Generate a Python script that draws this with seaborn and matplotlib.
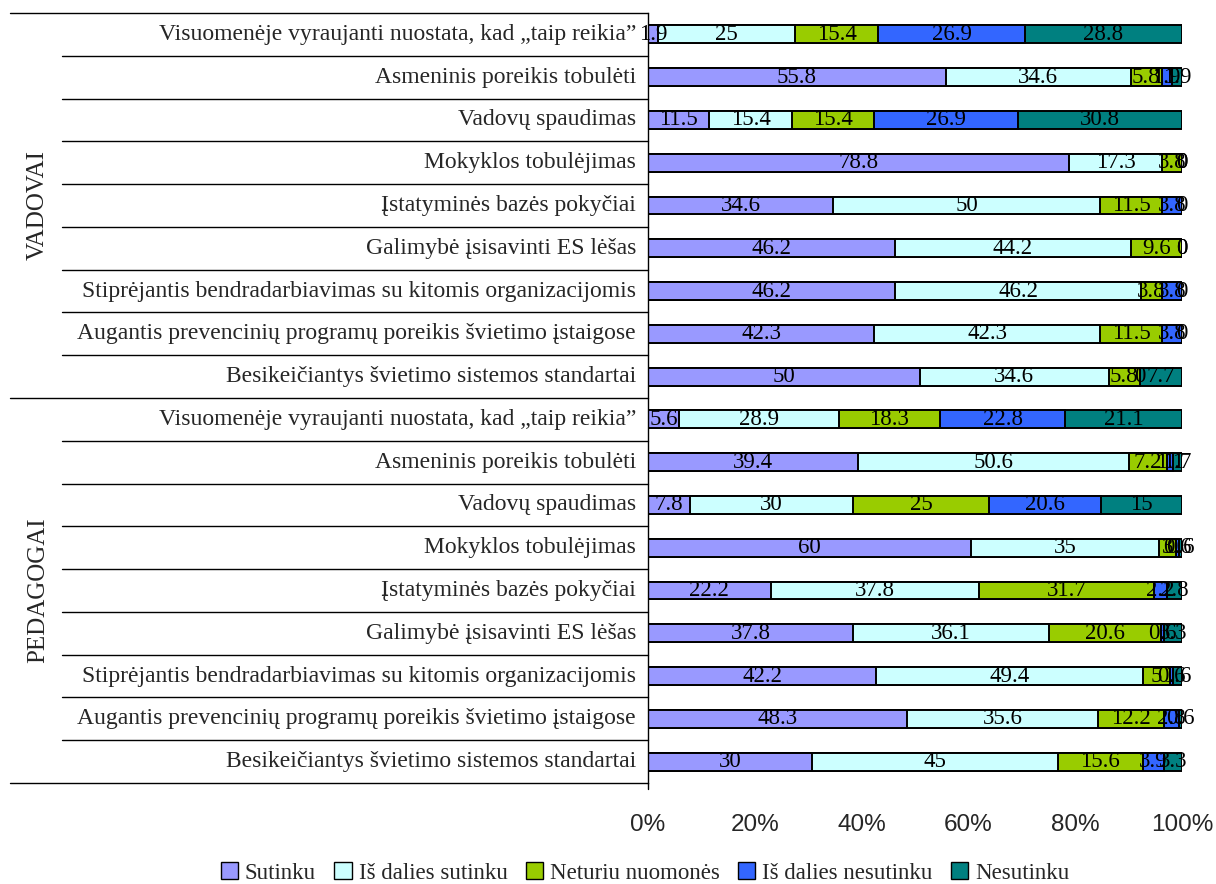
import numpy as np
import pandas as pd
import matplotlib
matplotlib.use("Agg")
import matplotlib.pyplot as plt
import matplotlib.transforms as mtransforms
from matplotlib.patches import Patch
import seaborn as sns

# ---------------- data ----------------
groups = ["VADOVAI", "PEDAGOGAI"]
items = [
    "Visuomenėje vyraujanti nuostata, kad „taip reikia”",
    "Asmeninis poreikis tobulėti",
    "Vadovų spaudimas",
    "Mokyklos tobulėjimas",
    "Įstatyminės bazės pokyčiai",
    "Galimybė įsisavinti ES lėšas",
    "Stiprėjantis bendradarbiavimas su kitomis organizacijomis",
    "Augantis prevencinių programų poreikis švietimo įstaigose",
    "Besikeičiantys švietimo sistemos standartai",
]
series = ["Sutinku", "Iš dalies sutinku", "Neturiu nuomonės",
          "Iš dalies nesutinku", "Nesutinku"]
colors = ["#9999FF", "#CCFFFF", "#99CC00", "#3366FF", "#008080"]

# first 9 values: VADOVAI, last 9: PEDAGOGAI (same item order)
sutinku = [1.9, 55.8, 11.5, 78.8, 34.6, 46.2, 46.2, 42.3, 50,
           5.6, 39.4, 7.8, 60, 22.2, 37.8, 42.2, 48.3, 30]
dalies_sutinku = [25, 34.6, 15.4, 17.3, 50, 44.2, 46.2, 42.3, 34.6,
                  28.9, 50.6, 30, 35, 37.8, 36.1, 49.4, 35.6, 45]
neturiu = [15.4, 5.8, 15.4, 3.8, 11.5, 9.6, 3.8, 11.5, 5.8,
           18.3, 7.2, 25, 3, 31.7, 20.6, 5, 12.2, 15.6]
dalies_nesutinku = [26.9, 1.9, 26.9, 0, 3.8, 0, 3.8, 3.8, 0,
                    22.8, 1.1, 20.6, 0.6, 2.2, 0.6, 0.6, 2.8, 3.9]
nesutinku = [28.8, 1.9, 30.8, 0, 0, 0, 0, 0, 7.7,
             21.1, 1.7, 15, 0.6, 2.8, 3.3, 1.6, 0.6, 3.3]

values = np.array([sutinku, dalies_sutinku, neturiu, dalies_nesutinku, nesutinku]).T
row_ids = [f"{g}_{i}" for g in groups for i in range(len(items))]
row_labels = items * len(groups)

pct = values / values.sum(axis=1, keepdims=True) * 100
cum = np.cumsum(pct, axis=1)

records = []
for r, rid in enumerate(row_ids):
    for s, name in enumerate(series):
        records.append({"row": rid, "series": name, "value": values[r, s],
                        "pct": pct[r, s], "cum": cum[r, s]})
df = pd.DataFrame(records)

# ---------------- plot ----------------
sns.set_style("white")
plt.rcParams["font.family"] = ["Liberation Serif", "DejaVu Serif"]

fig = plt.figure(figsize=(12.16, 8.84), dpi=100)
ax = fig.add_axes([648 / 1216, 1 - 783 / 884, (1182 - 648) / 1216, (783 - 13) / 884])

for s in reversed(range(len(series))):
    sub = df[df["series"] == series[s]]
    sns.barplot(data=sub, x="cum", y="row", order=row_ids, orient="h",
                color=colors[s], saturation=1, edgecolor="black", linewidth=1.4,
                width=0.42, errorbar=None, ax=ax)

# value labels
for r in range(len(row_ids)):
    left = 0.0
    for s in range(len(series)):
        centre = left + pct[r, s] / 2
        ax.text(centre, r, f"{values[r, s]:g}", ha="center", va="center",
                fontsize=16.5, color="black")
        left += pct[r, s]

ax.set_xlim(0, 100)
ax.set_ylim(len(row_ids) - 0.5, -0.5)
ax.set_xticks([0, 20, 40, 60, 80, 100])
ax.set_xticklabels([f"{t}%" for t in [0, 20, 40, 60, 80, 100]],
                   fontsize=17.5, family="Liberation Sans")
ax.tick_params(axis="x", length=0, pad=22)
ax.set_yticks([])
ax.set_xlabel("")
ax.set_ylabel("")
for sp in ["top", "right", "bottom"]:
    ax.spines[sp].set_visible(False)
ax.spines["left"].set_color("black")
ax.spines["left"].set_linewidth(1.0)

trans = mtransforms.blended_transform_factory(ax.transAxes, ax.transData)

# category labels
for r, lab in enumerate(row_labels):
    ax.text(-0.0225, r, lab, ha="right", va="center", fontsize=17,
            transform=trans)

# separator lines
x_short = (62 - 648) / 534
x_long = (10 - 648) / 534
n_items = len(items)
for k in range(len(row_ids) + 1):
    y = k - 0.5
    x0 = x_long if k % n_items == 0 else x_short
    ax.plot([x0, 0], [y, y], color="black", lw=1.0, transform=trans,
            clip_on=False)
# small tick extension of the axis below the bars
ax.plot([0, 0], [len(row_ids) - 0.5, len(row_ids) - 0.35], color="black",
        lw=1.0, transform=trans, clip_on=False)

# group labels
x_grp = (38 - 648) / 534
for g, name in enumerate(groups):
    ax.text(x_grp, g * n_items + (n_items - 1) / 2, name, rotation=90,
            ha="center", va="center", fontsize=18, transform=trans)

# legend
handles = [Patch(facecolor=c, edgecolor="black", linewidth=1.0) for c in colors]
fig.legend(handles, series, loc="center", bbox_to_anchor=(645 / 1216, 1 - 873 / 884),
           ncol=5, frameon=False, fontsize=16.5, handlelength=0.75,
           handleheight=0.75, handletextpad=0.3, columnspacing=0.8,
           borderaxespad=0)

fig.savefig("out.png", dpi=100)
